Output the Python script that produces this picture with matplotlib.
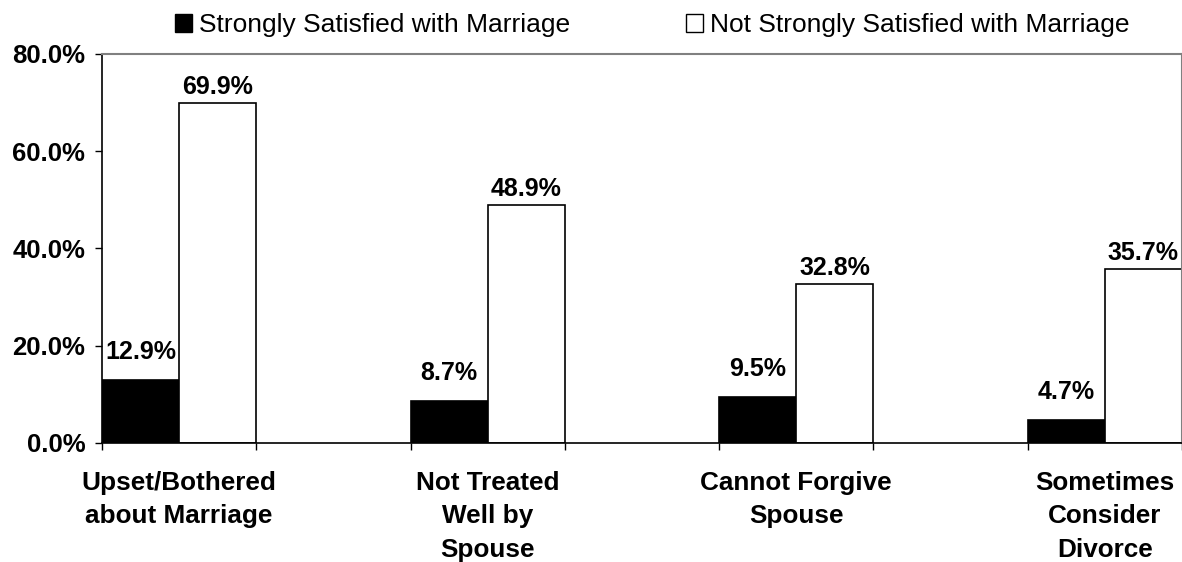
import numpy as np
import matplotlib
matplotlib.use("Agg")
import matplotlib.pyplot as plt
from matplotlib.patches import Patch

plt.rcParams['font.family'] = ['Liberation Sans', 'DejaVu Sans']

categories = ['Upset/Bothered\nabout Marriage', 'Not Treated\nWell by\nSpouse',
              'Cannot Forgive\nSpouse', 'Sometimes\nConsider\nDivorce']
strongly = [12.9, 8.7, 9.5, 4.7]
not_strongly = [69.9, 48.9, 32.8, 35.7]
series_names = ['Strongly Satisfied with Marriage', 'Not Strongly Satisfied with Marriage']
yticks = [0, 20, 40, 60, 80]

fig = plt.figure(figsize=(11.82, 5.62), dpi=100)
ax = fig.add_axes([102/1182, 1 - 443/562, 1080/1182, (443 - 54)/562])

x = np.arange(len(categories))
w = 0.25
ax.bar(x - w/2, strongly, w, color='black', edgecolor='black', linewidth=1.2)
ax.bar(x + w/2, not_strongly, w, color='white', edgecolor='black', linewidth=1.2)

# value labels
for xi, v in zip(x, strongly):
    ax.annotate(f'{v:.1f}%', (xi - w/2, v), xytext=(0, 20), textcoords='offset points',
                ha='center', va='center', fontsize=18, fontweight='bold')
for xi, v in zip(x, not_strongly):
    ax.annotate(f'{v:.1f}%', (xi + w/2, v), xytext=(0, 11.5), textcoords='offset points',
                ha='center', va='center', fontsize=18, fontweight='bold')

ax.set_xlim(-0.25, 3.25)
ax.set_ylim(0, 80)
ax.set_yticks(yticks)
ax.set_yticklabels([f'{t:.1f}%' for t in yticks], fontsize=18.5, fontweight='bold')
ax.tick_params(axis='y', length=5, width=1, pad=7, direction='out')

ax.set_xticks(x)
ax.set_xticklabels(categories, fontsize=18.8, fontweight='bold', linespacing=1.5)
ax.tick_params(axis='x', which='major', length=0, pad=20)
ax.set_xticks(np.concatenate([x - 0.25, x + 0.25]), minor=True)
ax.tick_params(axis='x', which='minor', length=5, width=1, direction='out')

for s in ['left', 'bottom']:
    ax.spines[s].set_color('black')
    ax.spines[s].set_linewidth(1.2)
for s in ['top', 'right']:
    ax.spines[s].set_color('#808080')
    ax.spines[s].set_linewidth(1.5)

handles = [Patch(facecolor='black', edgecolor='black'),
           Patch(facecolor='white', edgecolor='black')]
fig.legend(handles, series_names, loc='center', bbox_to_anchor=(0.552, 0.955),
           ncol=2, frameon=False, fontsize=19, handlelength=0.64, handleheight=0.64,
           handletextpad=0.27, columnspacing=4.4, borderaxespad=0, borderpad=0)

fig.savefig('out.png', dpi=100)
